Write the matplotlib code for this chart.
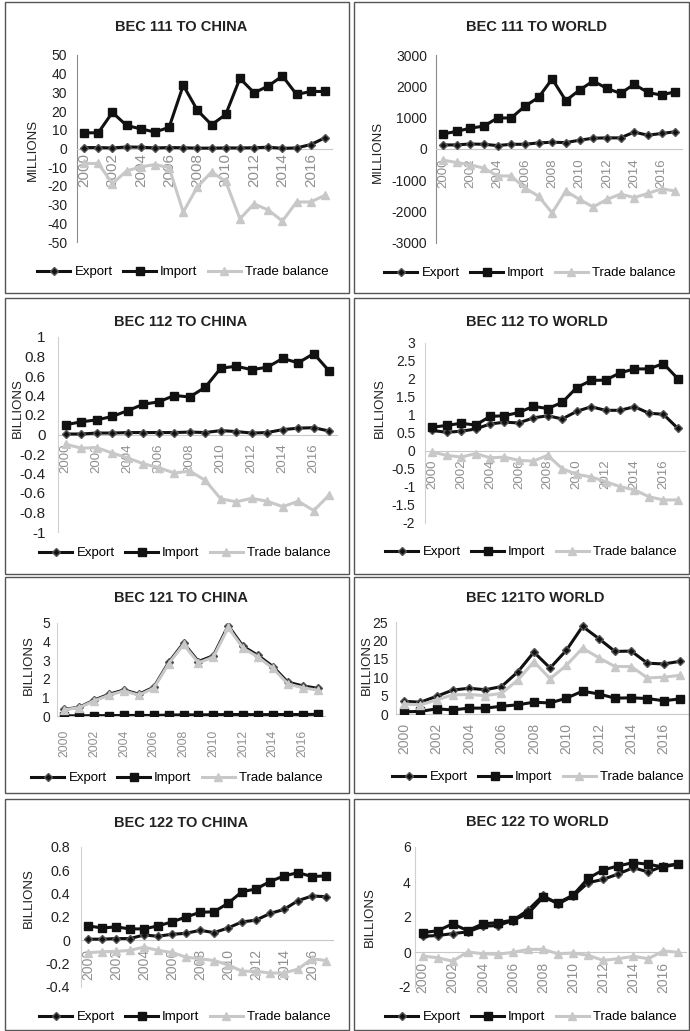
"""
Trade in BEC 111/112/121/122 goods: exports, imports and trade balance,
to China and to the world, 2000-2017.
"""

import numpy as np
import matplotlib.pyplot as plt
from matplotlib.patches import Rectangle
from matplotlib.ticker import FuncFormatter

plt.rcParams["font.family"] = ["Liberation Sans", "DejaVu Sans"]
plt.rcParams["axes.unicode_minus"] = False

W, H = 690, 1031

years = list(range(2000, 2018))
year_labels = [str(y) for y in years]

# BEC 111 to China (millions)
c111_export = [0.5, 0.5, 0.3, 0.8, 0.7, 0.3, 0.5, 0.4, 0.2, 0.2, 0.3, 0.3, 0.4, 0.7, 0.1, 0.3, 2.1, 5.7]
c111_import = [8.4, 8.4, 19.3, 12.3, 10.5, 8.8, 11.3, 33.8, 20.4, 12.7, 18.2, 37.5, 29.8, 33.4, 38.8, 28.9, 30.5, 30.5]
c111_balance = [-8.0, -8.0, -18.8, -12.0, -9.8, -8.6, -10.2, -34.0, -20.5, -12.6, -17.6, -37.6, -29.6, -32.9, -38.8, -28.6, -28.6, -25.0]

# BEC 111 to world (millions)
w111_export = [130, 130, 160, 150, 110, 150, 150, 195, 215, 205, 280, 345, 355, 355, 540, 440, 495, 550]
w111_import = [480, 560, 665, 730, 990, 990, 1365, 1645, 2235, 1545, 1880, 2170, 1935, 1775, 2065, 1805, 1720, 1830]
w111_balance = [-355, -430, -505, -610, -860, -860, -1245, -1505, -2040, -1340, -1610, -1850, -1610, -1440, -1550, -1420, -1270, -1340]

# BEC 112 to China (billions)
c112_export = [0.005, 0.005, 0.015, 0.015, 0.02, 0.02, 0.02, 0.02, 0.025, 0.02, 0.04, 0.03, 0.015, 0.02, 0.05, 0.065, 0.07, 0.035]
c112_import = [0.10, 0.13, 0.15, 0.185, 0.245, 0.31, 0.335, 0.40, 0.385, 0.485, 0.68, 0.70, 0.665, 0.69, 0.78, 0.735, 0.83, 0.65]
c112_balance = [-0.10, -0.14, -0.135, -0.19, -0.24, -0.30, -0.34, -0.395, -0.375, -0.47, -0.66, -0.69, -0.655, -0.685, -0.74, -0.685, -0.78, -0.62]

# BEC 112 to world (billions)
w112_export = [0.57, 0.52, 0.55, 0.61, 0.75, 0.80, 0.78, 0.92, 0.98, 0.89, 1.10, 1.23, 1.13, 1.13, 1.23, 1.05, 1.02, 0.63]
w112_import = [0.66, 0.71, 0.77, 0.72, 0.96, 0.98, 1.07, 1.24, 1.18, 1.35, 1.76, 1.96, 1.97, 2.17, 2.28, 2.28, 2.43, 2.01]
w112_balance = [-0.03, -0.12, -0.17, -0.07, -0.19, -0.17, -0.26, -0.28, -0.12, -0.49, -0.65, -0.72, -0.85, -0.99, -1.08, -1.27, -1.36, -1.36]

# BEC 121 to China (billions)
c121_export = [0.36, 0.47, 0.86, 1.17, 1.40, 1.17, 1.55, 2.88, 3.92, 2.93, 3.24, 4.86, 3.74, 3.26, 2.66, 1.82, 1.62, 1.49]
c121_import = [0.01, 0.01, 0.02, 0.02, 0.03, 0.03, 0.03, 0.05, 0.06, 0.06, 0.07, 0.08, 0.08, 0.07, 0.08, 0.08, 0.08, 0.09]
c121_balance = [0.34, 0.45, 0.82, 1.12, 1.35, 1.12, 1.50, 2.82, 3.85, 2.86, 3.17, 4.76, 3.65, 3.17, 2.57, 1.73, 1.52, 1.39]

# BEC 121 to world (billions)
w121_export = [3.45, 3.2, 4.8, 6.5, 7.0, 6.6, 7.45, 11.4, 16.8, 12.5, 17.3, 23.8, 20.5, 17.0, 17.1, 13.8, 13.6, 14.3]
w121_import = [0.6, 0.7, 1.4, 1.1, 1.6, 1.6, 2.1, 2.5, 3.2, 3.0, 4.3, 6.2, 5.45, 4.3, 4.4, 4.2, 3.6, 4.1]
w121_balance = [2.7, 2.5, 3.8, 5.2, 5.3, 5.0, 5.6, 9.2, 14.2, 9.6, 13.2, 17.9, 15.3, 12.9, 12.9, 9.8, 10.0, 10.5]

# BEC 122 to China (billions)
c122_export = [0.01, 0.01, 0.015, 0.015, 0.046, 0.035, 0.052, 0.06, 0.086, 0.066, 0.106, 0.158, 0.173, 0.23, 0.265, 0.34, 0.38, 0.374]
c122_import = [0.124, 0.106, 0.115, 0.098, 0.098, 0.124, 0.158, 0.20, 0.24, 0.245, 0.317, 0.417, 0.44, 0.504, 0.552, 0.58, 0.547, 0.552]
c122_balance = [-0.106, -0.098, -0.095, -0.086, -0.058, -0.086, -0.104, -0.144, -0.158, -0.173, -0.21, -0.265, -0.265, -0.28, -0.28, -0.247, -0.158, -0.173]

# BEC 122 to world (billions)
w122_export = [0.90, 0.94, 1.05, 1.15, 1.47, 1.51, 1.80, 2.39, 3.23, 2.74, 3.20, 3.96, 4.15, 4.46, 4.82, 4.57, 4.92, 5.03]
w122_import = [1.11, 1.21, 1.61, 1.22, 1.61, 1.68, 1.82, 2.18, 3.12, 2.81, 3.25, 4.21, 4.69, 4.92, 5.11, 5.01, 4.86, 5.03]
w122_balance = [-0.23, -0.33, -0.52, 0.0, -0.10, -0.13, -0.02, 0.15, 0.15, -0.10, -0.06, -0.19, -0.48, -0.38, -0.25, -0.38, 0.06, -0.02]

# layout in pixels from the top-left corner; the panels were pasted at slightly
# different scales, hence the per-panel font sizes and paddings
panels = [
    dict(title="BEC 111 TO CHINA", unit="MILLIONS", data=(c111_export, c111_import, c111_balance),
         yrange=(-50, 50, 10), frame=(5, 2, 349, 293), box=(77, 55, 332, 242),
         title_at=(181, 27), ylabel_at=(33, 150), legend_at=(183, 272), yaxis="#8c8c8c",
         ysize=10, ypad=7, xsize=11, xpad=3),
    dict(title="BEC 111 TO WORLD", unit="MILLIONS", data=(w111_export, w111_import, w111_balance),
         yrange=(-3000, 3000, 1000), frame=(354, 2, 689, 293), box=(436, 55, 682, 243),
         title_at=(537, 27), ylabel_at=(378, 152), legend_at=(530, 273), yaxis="#8c8c8c",
         ysize=10, ypad=6.5, xsize=9.5, xpad=7),
    dict(title="BEC 112 TO CHINA", unit="BILLIONS", data=(c112_export, c112_import, c112_balance),
         yrange=(-1, 1, 0.2), frame=(5, 298, 349, 574), box=(58, 337, 337, 532),
         title_at=(181, 322), ylabel_at=(18, 408), legend_at=(185, 553), yaxis="#d0d0d0",
         ysize=11, ypad=9, xsize=9.5, xpad=6.5),
    dict(title="BEC 112 TO WORLD", unit="BILLIONS", data=(w112_export, w112_import, w112_balance),
         yrange=(-2, 3, 0.5), frame=(354, 298, 689, 574), box=(425, 343, 685, 523),
         title_at=(537, 322), ylabel_at=(380, 408), legend_at=(531, 552), yaxis="#d0d0d0",
         ysize=10, ypad=7, xsize=9.5, xpad=6),
    dict(title="BEC 121 TO CHINA", unit="BILLIONS", data=(c121_export, c121_import, c121_balance),
         yrange=(0, 5, 1), frame=(5, 577, 349, 793), box=(57, 623, 325, 716),
         title_at=(181, 598), ylabel_at=(29, 665), legend_at=(177, 778), yaxis="#d0d0d0",
         ysize=10, ypad=5, xsize=8.7, xpad=10),
    dict(title="BEC 121TO WORLD", unit="BILLIONS", data=(w121_export, w121_import, w121_balance),
         yrange=(0, 25, 5), frame=(354, 577, 689, 793), box=(396, 622, 688, 714),
         title_at=(535, 598), ylabel_at=(367, 665), legend_at=(538, 777), yaxis="#d0d0d0",
         ysize=10, ypad=5.5, xsize=10, xpad=6.5),
    dict(title="BEC 122 TO CHINA", unit="BILLIONS", data=(c122_export, c122_import, c122_balance),
         yrange=(-0.4, 0.8, 0.2), frame=(5, 799, 349, 1030), box=(81, 847, 333, 987),
         title_at=(181, 823), ylabel_at=(29, 898), legend_at=(185, 1017), yaxis="#d0d0d0",
         ysize=10.3, ypad=8, xsize=10, xpad=6),
    dict(title="BEC 122 TO WORLD", unit="BILLIONS", data=(w122_export, w122_import, w122_balance),
         yrange=(-2, 6, 2), frame=(354, 799, 689, 1030), box=(415, 847, 686, 987),
         title_at=(537, 822), ylabel_at=(370, 917), legend_at=(531, 1017), yaxis="#d0d0d0",
         ysize=10, ypad=3, xsize=10, xpad=7),
]


def fx(px):
    return px / W


def fy(py):
    return 1 - py / H


def draw_panel(fig, p):
    l, t, r, b = p["frame"]
    fig.add_artist(Rectangle((fx(l), fy(b)), fx(r - l), (b - t) / H, transform=fig.transFigure,
                             fill=False, edgecolor="#555555", linewidth=1.0))

    l, t, r, b = p["box"]
    ax = fig.add_axes([fx(l), fy(b), fx(r - l), (b - t) / H])
    ax.set_facecolor("none")
    ax.set_axisbelow(True)
    # moving the spine resets the ticks, so do it before styling them
    for side in ("top", "right"):
        ax.spines[side].set_visible(False)
    ax.spines["bottom"].set_position(("data", 0))
    ax.spines["bottom"].set_color("#c8c8c8")
    ax.spines["left"].set_color(p["yaxis"])
    for sp in ax.spines.values():
        sp.set_zorder(0.5)

    x = np.arange(len(years))
    export, imp, balance = p["data"]
    ax.plot(x, export, color="#111111", lw=2.2, marker="D", ms=4.5,
            mfc="#111111", mec="#555555", label="Export")
    ax.plot(x, imp, color="#111111", lw=2.2, marker="s", ms=5.5, label="Import")
    ax.plot(x, balance, color="#c8c8c8", lw=2.2, marker="^", ms=5.5, label="Trade balance")

    lo, hi, step = p["yrange"]
    ax.set_xlim(-0.5, len(years) - 0.5)
    ax.set_ylim(lo, hi)
    ax.set_yticks(np.arange(lo, hi + step / 2, step))
    ax.yaxis.set_major_formatter(FuncFormatter(lambda v, _: f"{round(v, 6) + 0:g}"))
    ax.set_xticks(x[::2])
    ax.set_xticklabels(year_labels[::2], rotation=90, color="#909090", fontsize=p["xsize"])
    ax.tick_params(axis="y", length=0, pad=p["ypad"], labelsize=p["ysize"], labelcolor="#222222")
    ax.tick_params(axis="x", length=0, pad=p["xpad"])

    fig.text(fx(p["title_at"][0]), fy(p["title_at"][1]), p["title"], ha="center", va="center",
             fontsize=10.5, fontweight="bold", color="#222222")
    fig.text(fx(p["ylabel_at"][0]), fy(p["ylabel_at"][1]), p["unit"], ha="center", va="center",
             rotation=90, fontsize=9.5, color="#222222")
    ax.legend(loc="center", bbox_to_anchor=(fx(p["legend_at"][0]), fy(p["legend_at"][1])),
              bbox_transform=fig.transFigure, ncol=3, frameon=False, fontsize=9.5,
              handlelength=2.5, handletextpad=0.3, columnspacing=0.8, borderaxespad=0,
              borderpad=0)


def main():
    fig = plt.figure(figsize=(W / 100, H / 100), dpi=100)
    for p in panels:
        draw_panel(fig, p)
    fig.savefig("out.png", dpi=100)
    plt.close(fig)


if __name__ == "__main__":
    main()
